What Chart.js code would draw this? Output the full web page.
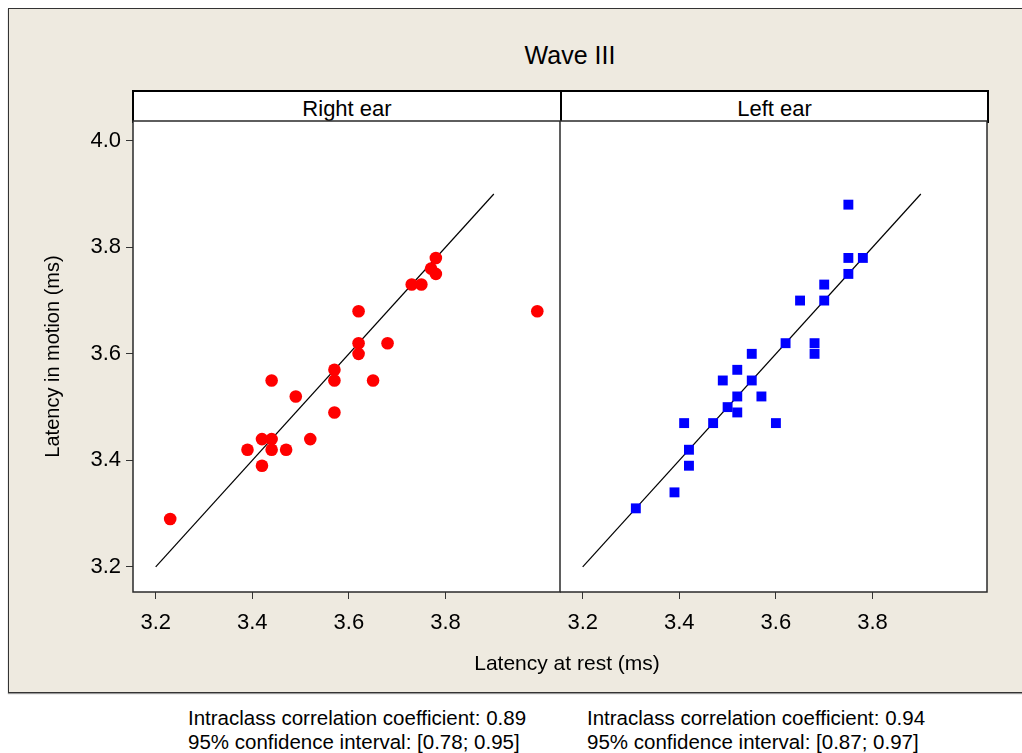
<!DOCTYPE html>
<html>
<head>
<meta charset="utf-8">
<script src="https://cdn.jsdelivr.net/npm/chart.js@4.4.1/dist/chart.umd.min.js"></script>
<style>
  html, body { margin: 0; padding: 0; background: #ffffff; }
  body { width: 1022px; height: 753px; position: relative; overflow: hidden; font-family: "Liberation Sans", Arial, sans-serif; color: #000; }
  #frame { position: absolute; left: 8px; top: 8px; width: 1030px; height: 683px; background: #EEEAE0; border: 1px solid #333; box-shadow: 0 1px 1px #999; }
  .txt { position: absolute; white-space: nowrap; }
  #title { left: 0; width: 1140px; top: 40px; text-align: center; font-size: 25px; line-height: 30px; }
  #strip { position: absolute; left: 132px; top: 90px; width: 853px; height: 29px; border: 2px solid #000; background: #fff; }
  #stripdiv { position: absolute; left: 426px; top: 0; width: 2px; height: 29px; background: #000; }
  .slab { position: absolute; top: 4px; font-size: 22px; line-height: 26px; text-align: center; }
  #xtitle { left: 400px; width: 334px; top: 650px; text-align: center; font-size: 21px; line-height: 26px; }
  .note { font-size: 20.5px; line-height: 24px; }
  canvas { position: absolute; }
</style>
</head>
<body>
<div id="frame"></div>
<div class="txt" id="title">Wave III</div>
<div id="strip"><div id="stripdiv"></div>
  <div class="slab" style="left:0;width:426px;">Right ear</div>
  <div class="slab" style="left:428px;width:425px;">Left ear</div>
</div>
<div style="position:absolute;left:0;top:0;width:561px;height:692px;"><canvas id="cL"></canvas></div>
<div style="position:absolute;left:560px;top:0;width:462px;height:692px;"><canvas id="cR"></canvas></div>
<div class="txt" id="xtitle">Latency at rest (ms)</div>
<div class="txt note" style="left:188px;top:706px;">Intraclass correlation coefficient: 0.89<br>95% confidence interval: [0.78; 0.95]</div>
<div class="txt note" style="left:587px;top:706px;">Intraclass correlation coefficient: 0.94<br>95% confidence interval: [0.87; 0.97]</div>
<script>
// ---- data (latency in ms) ----
const panelNames = ["Right ear", "Left ear"];
const tickValues = [3.2, 3.4, 3.6, 3.8, 4.0];
const xTickValues = [3.2, 3.4, 3.6, 3.8];
const identityLine = [3.2, 3.9];

const rightRest   = [3.23, 3.39, 3.42, 3.44, 3.44, 3.42, 3.47, 3.44, 3.49, 3.52, 3.57, 3.57, 3.57, 3.65, 3.62, 3.62, 3.62, 3.68, 3.73, 3.75, 3.77, 3.78, 3.78, 3.99];
const rightMotion = [3.29, 3.42, 3.44, 3.44, 3.42, 3.39, 3.42, 3.55, 3.52, 3.44, 3.57, 3.55, 3.49, 3.55, 3.68, 3.62, 3.60, 3.62, 3.73, 3.73, 3.76, 3.78, 3.75, 3.68];

const leftRest    = [3.31, 3.39, 3.42, 3.42, 3.41, 3.47, 3.50, 3.52, 3.52, 3.49, 3.52, 3.55, 3.55, 3.57, 3.60, 3.62, 3.68, 3.68, 3.65, 3.70, 3.70, 3.75, 3.75, 3.78, 3.75];
const leftMotion  = [3.31, 3.34, 3.39, 3.42, 3.47, 3.47, 3.50, 3.49, 3.52, 3.55, 3.57, 3.55, 3.60, 3.52, 3.47, 3.62, 3.62, 3.60, 3.70, 3.70, 3.73, 3.75, 3.78, 3.78, 3.88];

const AXMIN = 3.153, AXMAX = 4.037;
const FONT = "'Liberation Sans', Arial, sans-serif";

const panelBox = {
  id: 'panelBox',
  beforeDraw(chart) {
    const a = chart.chartArea, ctx = chart.ctx;
    ctx.save();
    ctx.fillStyle = '#ffffff';
    ctx.fillRect(a.left, a.top, a.right - a.left, a.bottom - a.top);
    ctx.restore();
  },
  afterDraw(chart) {
    const a = chart.chartArea, ctx = chart.ctx;
    ctx.save();
    ctx.strokeStyle = '#2a2a2a';
    ctx.lineWidth = 1.5;
    ctx.strokeRect(a.left, a.top, a.right - a.left, a.bottom - a.top);
    ctx.restore();
  }
};

function pts(xs, ys) { return xs.map((x, i) => ({ x: x, y: ys[i] })); }

function makeChart(id, xs, ys, color, style, radius, showY, padRight) {
  return new Chart(document.getElementById(id), {
    type: 'scatter',
    data: {
      datasets: [
        { data: pts(xs, ys), backgroundColor: color, borderColor: color, borderWidth: 0, pointStyle: style, pointRadius: radius, pointHoverRadius: radius },
        { type: 'line', data: pts(identityLine, identityLine), borderColor: '#000', borderWidth: 1.2, pointRadius: 0, fill: false, showLine: true }
      ]
    },
    options: {
      responsive: true, maintainAspectRatio: false, animation: false,
      events: [],
      layout: { autoPadding: false, padding: { top: 121, right: padRight, left: 0, bottom: 0 } },
      plugins: { legend: { display: false }, tooltip: { enabled: false } },
      scales: {
        x: {
          type: 'linear', min: AXMIN, max: AXMAX,
          afterBuildTicks: s => { s.ticks = xTickValues.map(v => ({ value: v })); },
          afterFit: s => { s.height = 100; s.paddingLeft = 0; s.paddingRight = 0; },
          grid: { drawOnChartArea: false, drawTicks: true, tickLength: 7, color: '#333', lineWidth: 1 },
          border: { display: false },
          ticks: { color: '#000', padding: 11, font: { family: FONT, size: 22 }, callback: v => v.toFixed(1), maxRotation: 0 }
        },
        y: {
          type: 'linear', min: AXMIN, max: AXMAX, display: showY,
          afterBuildTicks: s => { s.ticks = tickValues.map(v => ({ value: v })); },
          afterFit: s => { s.width = showY ? 133 : 0; s.paddingTop = 0; s.paddingBottom = 0; },
          grid: { drawOnChartArea: false, drawTicks: true, tickLength: 7, color: '#333', lineWidth: 1 },
          border: { display: false },
          ticks: { color: '#000', padding: 5, font: { family: FONT, size: 22 }, callback: v => v.toFixed(1) },
          title: { display: true, text: 'Latency in motion (ms)', color: '#000', font: { family: FONT, size: 20 }, padding: { top: 41, bottom: 0 } }
        }
      }
    },
    plugins: [panelBox]
  });
}

makeChart('cL', rightRest, rightMotion, '#ff0000', 'circle', 6.3, true, 1);
makeChart('cR', leftRest, leftMotion, '#0000ff', 'rect', 7, false, 35);
</script>
</body>
</html>
